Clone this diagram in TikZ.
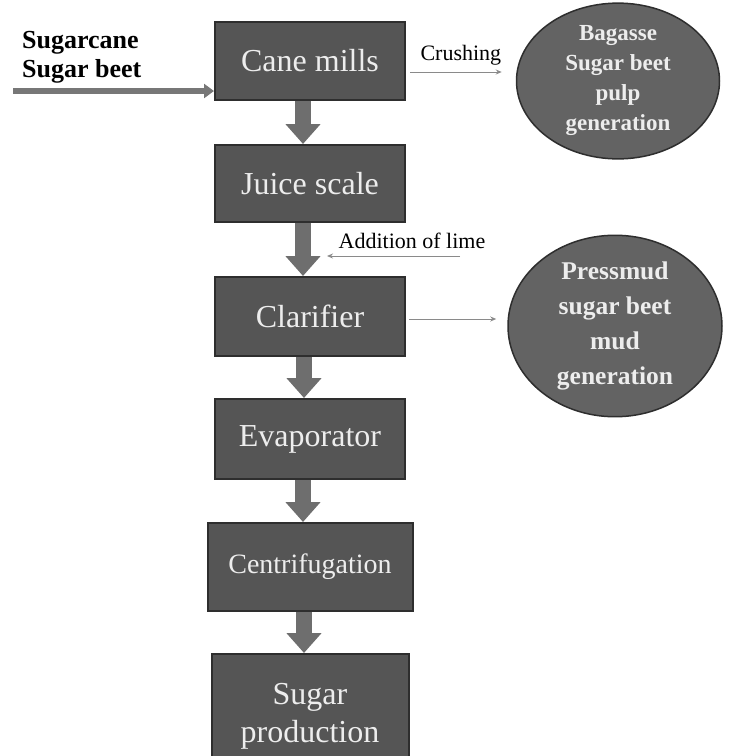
\documentclass[tikz,border=0pt]{standalone}
\usepackage{fontspec}
\setmainfont{Liberation Serif}
\usepackage{tikz}
\usetikzlibrary{arrows.meta,positioning,shapes.geometric}
\definecolor{BoxGrey}{HTML}{555555}
\definecolor{EdgeGrey}{HTML}{2E2E2E}
\definecolor{PaleText}{HTML}{EDEDED}
\definecolor{LineGrey}{HTML}{8A8A8A}

\begin{document}
\begin{tikzpicture}[x=1pt,y=-1pt,>=Latex]
\tikzstyle{stage}=[draw=EdgeGrey,line width=2pt,fill=BoxGrey,text=PaleText,align=center,minimum width=190pt,minimum height=78pt,font=\fontsize{32}{36}\selectfont]
\tikzstyle{waste}=[ellipse,draw=EdgeGrey,line width=1.5pt,fill=BoxGrey!92!white,text=PaleText,align=center,inner sep=0pt,font=\bfseries\fontsize{23}{30}\selectfont]
\tikzstyle{flow}=[line width=16pt,draw=BoxGrey!85!white,-{Triangle[length=20pt,width=34pt]}]
\tikzstyle{side}=[line width=1pt,draw=LineGrey,-{Stealth[length=6pt,width=5pt]}]
\tikzstyle{feed}=[line width=6pt,draw=BoxGrey!80!white,-{Triangle[length=10pt,width=14pt]}]
\useasboundingbox (0,0) rectangle (741,756);
% main line
\node[stage] (mills) at (310,61) {Cane mills};
\node[stage,below=43pt of mills,minimum height=77pt] (juice) {Juice scale};
\node[stage,below=53pt of juice,minimum height=79pt] (clar) {Clarifier};
\node[stage,below=41pt of clar,minimum height=80pt] (evap) {Evaporator};
\node[stage,below=42pt of evap,minimum width=205pt,minimum height=88pt,font=\fontsize{28}{32}\selectfont] (centr) {Centrifugation};
\node[stage,below=41pt of centr,minimum width=197pt,minimum height=124pt,font=\fontsize{32}{38}\selectfont] (prod) {Sugar\\production};
% by-products
\node[waste,minimum width=203pt,minimum height=148pt] (pulp) at (618,81) {Bagasse\\Sugar beet\\pulp\\generation};
\node[waste,minimum width=214pt,minimum height=148pt,font=\bfseries\fontsize{25.5}{35}\selectfont] (mud) at (615,326) {Pressmud\\sugar beet\\mud\\generation};
% raw material
\node[align=left,anchor=west,inner sep=0pt,font=\bfseries\fontsize{26}{29}\selectfont] (raw) at (22,57) {Sugarcane\\Sugar beet};
\coordinate (src) at (13,91);
\coordinate (lime) at (460,256);
\draw[feed] (src) -- (src -| mills.west);
\draw[flow] ([xshift=-7pt]mills.south) -- ([xshift=-7pt]juice.north);
\draw[flow] ([xshift=-7pt]juice.south) -- ([xshift=-7pt]clar.north);
\draw[flow] ([xshift=-6pt]clar.south) -- ([xshift=-6pt]evap.north);
\draw[flow] ([xshift=-7pt]evap.south) -- ([xshift=-7pt]centr.north);
\draw[flow] ([xshift=-6pt]centr.south) -- ([xshift=-6pt]prod.north);
\draw[side,shorten <=4pt,shorten >=14pt] ([yshift=-11pt]mills.east) -- ([yshift=-11pt]mills.east -| pulp.west)
  node[midway,above=6pt,inner sep=0pt,font=\fontsize{22}{26}\selectfont] {Crushing};
\draw[side,shorten >=17pt] (lime) -- (lime -| juice.south)
  node[pos=0.32,above=7pt,inner sep=0pt,font=\fontsize{22}{26}\selectfont] {Addition of lime};
\draw[side,shorten <=3pt,shorten >=11pt] ([yshift=-2.5pt]clar.east) -- ([yshift=-2.5pt]clar.east -| mud.west);
\end{tikzpicture}
\end{document}
